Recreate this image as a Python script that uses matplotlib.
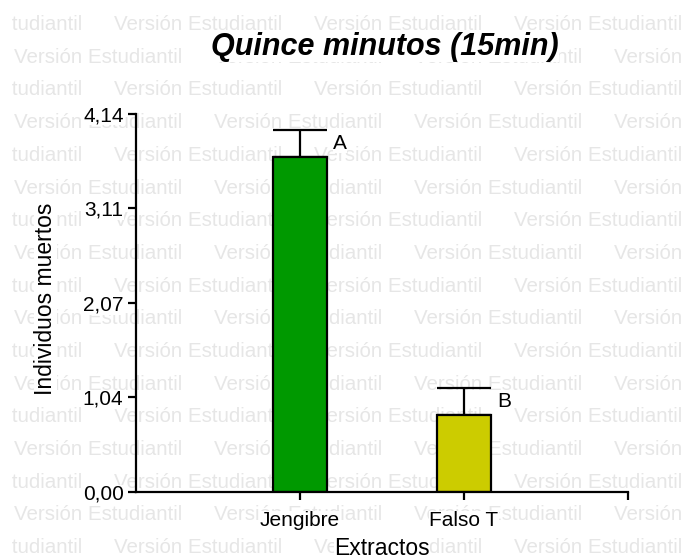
import matplotlib.pyplot as plt
from matplotlib.transforms import Bbox

plt.rcParams['font.family'] = ['Liberation Sans', 'DejaVu Sans']

# datos
categorias = ['Jengibre', 'Falso T']
medias = [3.67, 0.84]
errores = [0.30, 0.30]
letras = ['A', 'B']
colores = ['#009900', '#cccc00']
yticks = [0.0, 1.04, 2.07, 3.11, 4.14]
ytick_labels = ['0,00', '1,04', '2,07', '3,11', '4,14']

W, H = 683, 560
fig = plt.figure(figsize=(W / 100, H / 100), dpi=100)
fig.patch.set_facecolor('white')

# marca de agua "Versión Estudiantil" (recortada a la izquierda como en el original)
marca = 'Versión Estudiantil'
recorte = Bbox.from_extents(12, 0, W, H)
for k in range(18):
    y = 30 + 32.7 * k
    x0 = -86 if k % 2 == 0 else 14
    for j in range(5):
        t = fig.text((x0 + 200 * j) / W, 1 - y / H, marca, fontsize=14.8,
                     color='#e6e6e6', va='baseline', ha='left', zorder=-10)
        t.set_clip_box(recorte)
        t.set_clip_on(True)

ax = fig.add_axes([136 / W, 1 - 492 / H, (628 - 136) / W, (492 - 114) / H])
ax.set_facecolor('none')

x = [1, 2]
ax.bar(x, medias, width=0.335, color=colores, edgecolor='black', linewidth=1.6, zorder=2)
ax.errorbar(x, medias, yerr=[[0, 0], errores], fmt='none', ecolor='black',
            elinewidth=1.6, capsize=19.5, capthick=1.6, zorder=1)

for xi, m, e, l in zip(x, medias, errores, letras):
    ax.annotate(l, xy=(xi + 0.335 / 2, m + e), xytext=(4, -3), textcoords='offset points',
                ha='left', va='top', fontsize=15,
                bbox=dict(facecolor='white', edgecolor='none', pad=0))

ax.set_xlim(0, 3)
ax.set_ylim(0, 4.14)
ax.set_xticks([1, 2, 3])
ax.set_xticklabels(categorias + [''])
ax.set_yticks(yticks)
ax.set_yticklabels(ytick_labels)

for s in ['top', 'right']:
    ax.spines[s].set_visible(False)
for s in ['left', 'bottom']:
    ax.spines[s].set_linewidth(1.6)
ax.tick_params(direction='out', length=6, width=1.6, labelsize=15)
ax.tick_params(axis='x', pad=8)
ax.tick_params(axis='y', pad=3)
for lab in ax.get_xticklabels() + ax.get_yticklabels():
    lab.set_bbox(dict(facecolor='white', edgecolor='none', pad=0))

ax.set_ylabel('Individuos muertos', fontsize=16.5,
              bbox=dict(facecolor='white', edgecolor='none', pad=0))
ax.yaxis.set_label_coords(-0.16, 0.51)
ax.set_xlabel('Extractos', fontsize=16.5,
              bbox=dict(facecolor='white', edgecolor='none', pad=0))
ax.xaxis.set_label_coords(0.5, -0.12)
ax.xaxis.label.set_va('top')

fig.text(385 / W, 1 - 47 / H, 'Quince minutos (15min)', fontsize=22, fontweight='bold',
         fontstyle='italic', ha='center', va='center',
         bbox=dict(facecolor='white', edgecolor='none', pad=0))

fig.savefig('out.png', dpi=100)
